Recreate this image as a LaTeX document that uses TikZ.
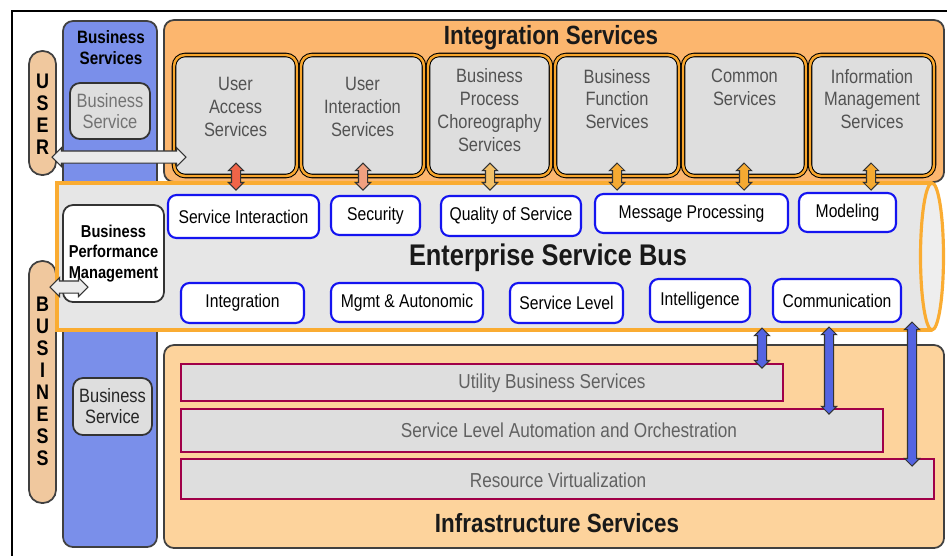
\documentclass[tikz,border=0pt]{standalone}
\usepackage{fontspec}
\setmainfont{Liberation Sans}[FakeStretch=0.85]
\usepackage{tikz}
\usetikzlibrary{shapes.arrows,positioning,calc}

\definecolor{bscol}{RGB}{122,143,234}
\definecolor{intcol}{RGB}{252,182,110}
\definecolor{infcol}{RGB}{253,211,156}
\definecolor{pillcol}{RGB}{240,200,158}
\definecolor{boxgray}{RGB}{222,222,222}
\definecolor{esbgray}{RGB}{230,230,230}
\definecolor{esbend}{RGB}{238,238,238}
\definecolor{esbline}{RGB}{250,172,50}
\definecolor{svcedge}{RGB}{248,166,45}
\definecolor{blueedge}{RGB}{20,20,240}
\definecolor{layedge}{RGB}{160,0,72}
\definecolor{bluearr}{RGB}{84,100,226}
\definecolor{arrA}{RGB}{240,100,72}
\definecolor{arrB}{RGB}{240,160,128}
\definecolor{arrC}{RGB}{242,192,104}
\definecolor{arrD}{RGB}{245,170,50}

\tikzset{
  sz/.style 2 args={minimum width=#1*0.02cm, minimum height=#2*0.02cm},
  vbar/.style={darr, rotate=90, minimum height=#1*0.02cm},
  hbar/.style={darr, fill=black!8, inner ysep=0.11cm, double arrow head extend=0.07cm, minimum height=#1*0.02cm}
}

\begin{document}
\begin{tikzpicture}[x=0.02cm, y=-0.02cm, inner sep=0pt,
  pill/.style={draw=black!75, line width=1pt, fill=pillcol, rounded corners=0.26cm},
  letters/.style={align=center, font=\bfseries\fontsize{12}{12.5}\selectfont},
  bigbox/.style={draw=black!75, line width=1pt, rounded corners=0.2cm},
  bsbox/.style={draw=black!80, line width=1pt, fill=boxgray, rounded corners=0.2cm, align=center, font=\fontsize{11}{12}\selectfont},
  bshead/.style={align=center, font=\bfseries\fontsize{10.2}{12}\selectfont},
  isvc/.style={draw=black, line width=0.6pt, double=svcedge, double distance=1.4pt, fill=boxgray, rounded corners=0.22cm},
  isvctxt/.style={align=center, text=black!68, font=\fontsize{11}{13}\selectfont},
  heading/.style={text=black!90, font=\bfseries\fontsize{15}{18}\selectfont},
  esbsvc/.style={draw=blueedge, line width=1.2pt, fill=white, rounded corners=0.17cm, text=black, font=\fontsize{10.5}{12}\selectfont},
  lyr/.style={draw=layedge, line width=1.2pt, fill=boxgray},
  lyrtxt/.style={text=black!62, font=\fontsize{11.5}{13}\selectfont},
  darr/.style={double arrow, draw=black!80, line width=0.6pt, inner xsep=0pt, inner ysep=0.08cm, double arrow head extend=0.06cm}
]
  \useasboundingbox (0,0) rectangle (947,556);
  \draw[line width=0.8pt] (947,11) -- (12,11) -- (12,556);

  % user and business side bars
  \node[pill, sz={27}{124}] (user) at (42.5,113) {};
  \node[letters] (usertxt) at (42.5,114.5) {U\\S\\E\\R};
  \node[pill, sz={27}{242}] (bus) at (42.5,382) {};
  \node[letters] (bustxt) at (42.5,381.5) {B\\U\\S\\I\\N\\E\\S\\S};

  % business services column
  \node[bigbox, fill=bscol, sz={94}{526}] (bscolumn) at (110,284) {};
  \node[bshead] (bshd) at (111,48) {Business\\Services};
  \node[bsbox, text=black!55, sz={80}{56}] (bs1) at (110,111) {Business\\Service};
  \node[bsbox, text=black!85, sz={79}{57}] (bs2) at (112.5,406.5) {Business\\Service};

  % integration services
  \node[bigbox, fill=intcol, sz={780}{162}] (intsvc) at (554,101) {};
  \node[heading] (inthd) at (551,38) {Integration Services};
  \node[isvc, sz={123}{121}] (ua) at (235.5,115.5) {};
  \node[isvc, sz={123}{121}] (ui) at (362.5,115.5) {};
  \node[isvc, sz={123}{121}] (bpc) at (489.5,115.5) {};
  \node[isvc, sz={124}{121}] (bf) at (617,115.5) {};
  \node[isvc, sz={123}{121}] (cs) at (744.5,115.5) {};
  \node[isvc, sz={124}{121}] (im) at (872,115.5) {};
  \node[isvctxt] (uatxt) at (235.5,107) {User\\Access\\Services};
  \node[isvctxt] (uitxt) at (362.5,107) {User\\Interaction\\Services};
  \node[isvctxt] (bpctxt) at (489.5,110) {Business\\Process\\Choreography\\Services};
  \node[isvctxt] (bftxt) at (617,99) {Business\\Function\\Services};
  \node[isvctxt] (cstxt) at (744.5,87.5) {Common\\Services};
  \node[isvctxt] (imtxt) at (872,99) {Information\\Management\\Services};

  % infrastructure services
  \node[bigbox, fill=infcol, sz={780}{203}] (infsvc) at (554,446.5) {};
  \node[lyr, sz={602}{37}] (ubs) at (482,382.5) {};
  \node[lyr, sz={702}{43}] (sla) at (532,430.5) {};
  \node[lyr, sz={753}{40}] (rv) at (557.5,479) {};
  \node[lyrtxt] (ubstxt) at (552,383) {Utility Business Services};
  \node[lyrtxt] (slatxt) at (569,430) {Service Level Automation and Orchestration};
  \node[lyrtxt] (rvtxt) at (558,480) {Resource Virtualization};
  \node[heading] (infhd) at (557,523) {Infrastructure Services};

  % enterprise service bus
  \fill[esbgray] (57,183) rectangle (932,330);
  \draw[esbline, line width=1.8pt] (932,183) -- (57,183) -- (57,330) -- (932,330);
  \draw[esbline, line width=1.8pt, fill=esbend] (932,256.5) ellipse [x radius=0.23cm, y radius=1.47cm];
  \node[heading, font=\bfseries\fontsize{17}{20}\selectfont] (esb) at (548,258) {Enterprise Service Bus};
  \node[draw=black!80, line width=1pt, fill=white, rounded corners=0.2cm, sz={101}{97}, align=center, font=\bfseries\fontsize{9.8}{11.6}\selectfont] (bpm) at (113.5,253.5) {Business\\Performance\\Management};

  \node[esbsvc, sz={151}{43}] (si) at (243.5,216.5) {Service Interaction};
  \node[esbsvc, sz={89}{39}] (sec) at (375.5,215.5) {Security};
  \node[esbsvc, sz={140}{40}] (qos) at (511,216) {Quality of Service};
  \node[esbsvc, sz={193}{39}] (mp) at (691.5,213.5) {Message Processing};
  \node[esbsvc, sz={97}{39}] (mod) at (847.5,212.5) {Modeling};
  \node[esbsvc, sz={123}{40}] (intg) at (242.5,303) {Integration};
  \node[esbsvc, sz={152}{39}] (mgmt) at (407,302.5) {Mgmt \& Autonomic};
  \node[esbsvc, sz={113}{40}] (sl) at (566.5,303) {Service Level};
  \node[esbsvc, sz={100}{43}] (intel) at (700,300.5) {Intelligence};
  \node[esbsvc, sz={128}{43}] (comm) at (837,300.5) {Communication};

  % arrows
  \node[vbar=27, fill=arrA] (a1) at (236,176.5) {};
  \node[vbar=27, fill=arrB] (a2) at (363,176.5) {};
  \node[vbar=27, fill=arrC] (a3) at (490,176.5) {};
  \node[vbar=27, fill=arrD] (a4) at (617,176.5) {};
  \node[vbar=27, fill=arrD] (a5) at (744,176.5) {};
  \node[vbar=27, fill=arrD] (a6) at (871,176.5) {};
  \node[vbar=40, fill=bluearr] (b1) at (762,348) {};
  \node[vbar=87, fill=bluearr] (b2) at (829,370.5) {};
  \node[vbar=144, fill=bluearr] (b3) at (912,394) {};
  \node[hbar=134] (userarr) at (119,157) {};
  \node[hbar=38] (busarr) at (69,287) {};
\end{tikzpicture}
\end{document}
